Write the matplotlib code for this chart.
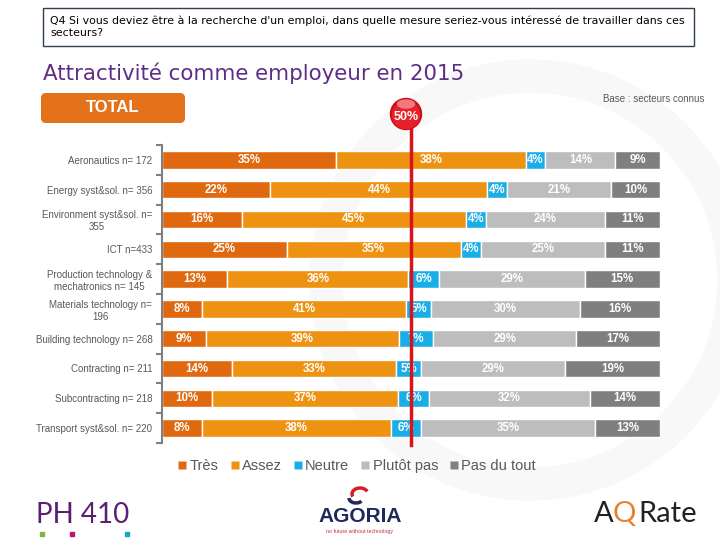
import matplotlib.pyplot as plt
from matplotlib.patches import Rectangle, FancyBboxPatch, Circle, Ellipse, Wedge, Arc
from matplotlib.lines import Line2D

# data
sectors = ["Aeronautics n= 172", "Energy syst&sol. n= 356", "Environment syst&sol. n=\n355",
           "ICT n=433", "Production technology &\nmechatronics n= 145", "Materials technology n=\n196",
           "Building technology n= 268", "Contracting n= 211", "Subcontracting n= 218",
           "Transport syst&sol. n= 220"]
tres = [35, 22, 16, 25, 13, 8, 9, 14, 10, 8]
assez = [38, 44, 45, 35, 36, 41, 39, 33, 37, 38]
neutre = [4, 4, 4, 4, 6, 5, 7, 5, 6, 6]
plutot_pas = [14, 21, 24, 25, 29, 30, 29, 29, 32, 35]
pas_du_tout = [9, 10, 11, 11, 15, 16, 17, 19, 14, 13]
series_names = ["Très", "Assez", "Neutre", "Plutôt pas", "Pas du tout"]
colors = ["#E0690F", "#EE9212", "#1AAEE8", "#BDBDBD", "#7F7F7F"]
threshold = 50

title = "Attractivité comme employeur en 2015"
question = ("Q4 Si vous deviez être à la recherche d'un emploi, dans quelle mesure seriez-vous "
            "intéressé de travailler dans ces\nsecteurs?")

plt.rcParams['font.family'] = ['Liberation Sans', 'DejaVu Sans']

fig = plt.figure(figsize=(7.2, 5.4), dpi=100)
px = fig.dpi_scale_trans  # 1 unit = 100 px


def P(x, y):
    # pixel coords (top-left origin) -> inches
    return (x / 100.0, (540 - y) / 100.0)


# faint watermark ring
fig.add_artist(Wedge(P(530, 280), 2.2, 0, 360, width=0.32, transform=px,
                     color="#F8F8F8", zorder=0))

ax = fig.add_axes([162 / 720, 1 - 443 / 540, 498 / 720, 298 / 540])
ax.set_facecolor("none")

series = [tres, assez, neutre, plutot_pas, pas_du_tout]
n = len(sectors)
totals = [sum(s[i] for s in series) for i in range(n)]
left = [0.0] * n
for vals, col in zip(series, colors):
    widths = [v / t * 100 for v, t in zip(vals, totals)]
    ax.barh(range(n), widths, left=left, height=0.59, color=col,
            edgecolor="white", linewidth=1, zorder=2)
    for i, (v, w) in enumerate(zip(vals, widths)):
        ax.text(left[i] + w / 2, i, f"{v}%", ha="center", va="center",
                color="white", fontsize=8.3, fontweight="bold", zorder=4)
    left = [l + w for l, w in zip(left, widths)]

ax.set_xlim(0, 100)
ax.set_ylim(n - 0.5, -0.5)
ax.set_yticks(range(n))
ax.set_yticklabels(sectors, fontsize=7, color="#595959", multialignment="center")
ax.set_yticks([k - 0.5 for k in range(n + 1)], minor=True)
ax.tick_params(axis="y", which="major", length=0, pad=7)
ax.tick_params(axis="y", which="minor", length=4, width=1.5, color="#808080", direction="out")
ax.set_xticks([])
for s in ["top", "right", "bottom"]:
    ax.spines[s].set_visible(False)
ax.spines["left"].set_color("#808080")
ax.spines["left"].set_linewidth(1.5)

# 50% line
ax.axvline(threshold, ymin=-0.007, ymax=1.057, color="#D7141A", linewidth=2.5,
           clip_on=False, zorder=5)

# red ball
fig.add_artist(Circle(P(406, 114), 0.155, transform=px, color="#C8101A", zorder=6))
fig.add_artist(Circle(P(406, 115), 0.135, transform=px, color="#E8202A", zorder=6))
fig.add_artist(Ellipse(P(406, 104), 0.17, 0.08, transform=px, color="#F27A7F", zorder=6))
fig.text(*P(406, 117), f"{threshold}%", transform=px, ha="center", va="center",
         color="white", fontsize=9, fontweight="bold", zorder=7)

# question box
fig.add_artist(Rectangle(P(43, 46), 6.51, 0.38, transform=px, fill=False,
                         edgecolor="#2F3F4F", linewidth=1))
fig.text(*P(50, 27), question, transform=px, ha="left", va="center",
         fontsize=7.9, family="DejaVu Sans", color="black", linespacing=1.3)

# title
fig.text(*P(43, 73), title, transform=px, ha="left", va="center",
         fontsize=15.4, family="DejaVu Sans", color="#5E2D86")

# TOTAL badge
fig.add_artist(FancyBboxPatch(P(44, 120), 1.38, 0.24, transform=px,
                              boxstyle="round,pad=0.03,rounding_size=0.05",
                              facecolor="#E4721A", edgecolor="none"))
fig.text(*P(113, 108), "TOTAL", transform=px, ha="center", va="center",
         fontsize=12, fontweight="bold", color="white")

fig.text(*P(704, 99), "Base : secteurs connus", transform=px, ha="right", va="center",
         fontsize=7, color="#595959")

# legend
handles = [Line2D([0], [0], marker="s", linestyle="none", markersize=5.5,
                  markerfacecolor=c, markeredgecolor="none", label=l)
           for c, l in zip(colors, series_names)]
fig.legend(handles=handles, loc="center", bbox_to_anchor=(357 / 720, 1 - 466 / 540),
           ncol=5, frameon=False, fontsize=10.5, handlelength=0.6, handletextpad=0.2,
           columnspacing=0.8, labelcolor="#595959")

# logos
fig.text(*P(83, 515), "PH 410", transform=px, ha="center", va="center",
         fontsize=20, family="Lato", color="#5A1F72")
for x, c in [(40, "#7DB73A"), (70, "#C4127A"), (125, "#1AA5C8")]:
    fig.add_artist(Rectangle(P(x, 536), 0.04, 0.04, transform=px, color=c))

fig.add_artist(Arc(P(360, 494), 0.16, 0.12, theta1=20, theta2=200, transform=px,
                   color="#D0202A", linewidth=2.5))
fig.add_artist(Arc(P(356, 498), 0.14, 0.10, theta1=180, theta2=330, transform=px,
                   color="#1F2A5A", linewidth=2.5))
fig.text(*P(360, 517), "AGORIA", transform=px, ha="center", va="center",
         fontsize=15, fontweight="bold", color="#1F2A5A")
fig.text(*P(360, 532), "no future without technology", transform=px, ha="center",
         va="center", fontsize=3.8, color="#C0303A")

fig.text(*P(594, 514), "A", transform=px, ha="left", va="center",
         fontsize=21, family="Lato", color="#222222")
fig.text(*P(613, 514), "Q", transform=px, ha="left", va="center",
         fontsize=21, family="Lato", color="#E8812A")
fig.text(*P(638, 514), "Rate", transform=px, ha="left", va="center",
         fontsize=21, family="Lato", color="#222222")

fig.savefig("out.png", dpi=100)
